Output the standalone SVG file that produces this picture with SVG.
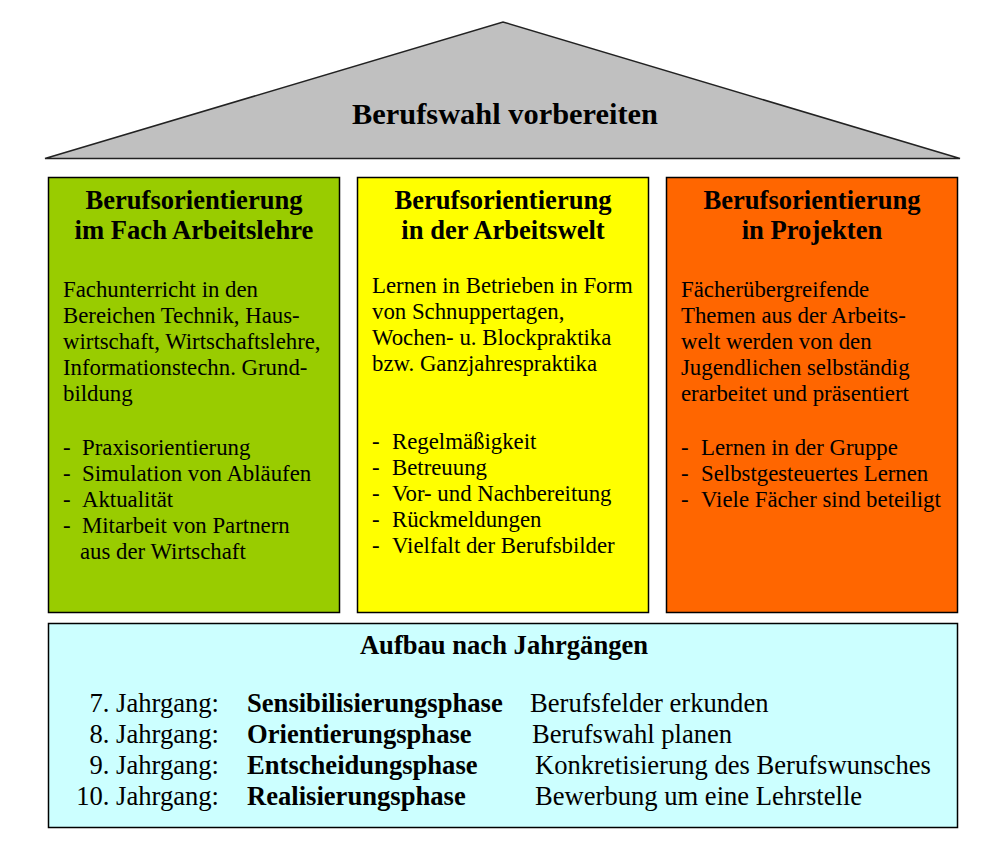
<svg xmlns="http://www.w3.org/2000/svg" width="1008" height="841" viewBox="0 0 1008 841">
<style>
text{font-family:"Liberation Serif","Times New Roman",serif;fill:#000}
.t{font-size:26.6px;font-weight:bold;text-anchor:middle}
.b{font-size:22.8px}
.r{font-size:26.6px}
.rb{font-size:26.6px;font-weight:bold}
.box{stroke:#000;stroke-width:1.5}
</style>
<rect width="1008" height="841" fill="#fff"/>
<g id="roof">
<polygon points="45,158.5 503,22 960,158.5" fill="#c0c0c0" stroke="#222" stroke-width="1.5"/>
<text x="505" y="124" style="font-size:30.4px;font-weight:bold;text-anchor:middle">Berufswahl vorbereiten</text>
</g>
<g id="col1">
<rect class="box" x="48.5" y="177.5" width="291" height="435" fill="#99cc00"/>
<text class="t" x="194" y="209">Berufsorientierung</text>
<text class="t" x="194" y="239">im Fach Arbeitslehre</text>
<text class="b" x="63" y="297">Fachunterricht in den</text>
<text class="b" x="63" y="323">Bereichen Technik, Haus-</text>
<text class="b" x="63" y="349">wirtschaft, Wirtschaftslehre,</text>
<text class="b" x="63" y="375">Informationstechn. Grund-</text>
<text class="b" x="63" y="401">bildung</text>
<text class="b" x="63" y="455">-</text><text class="b" x="82" y="455">Praxisorientierung</text>
<text class="b" x="63" y="481">-</text><text class="b" x="82" y="481">Simulation von Abläufen</text>
<text class="b" x="63" y="507">-</text><text class="b" x="82" y="507">Aktualität</text>
<text class="b" x="63" y="533">-</text><text class="b" x="82" y="533">Mitarbeit von Partnern</text>
<text class="b" x="80" y="559">aus der Wirtschaft</text>
</g>
<g id="col2">
<rect class="box" x="357.5" y="177.5" width="291" height="435" fill="#ffff00"/>
<text class="t" x="503" y="209">Berufsorientierung</text>
<text class="t" x="503" y="239">in der Arbeitswelt</text>
<text class="b" x="372" y="293">Lernen in Betrieben in Form</text>
<text class="b" x="372" y="319">von Schnuppertagen,</text>
<text class="b" x="372" y="345">Wochen- u. Blockpraktika</text>
<text class="b" x="372" y="371">bzw. Ganzjahrespraktika</text>
<text class="b" x="372" y="449">-</text><text class="b" x="392" y="449">Regelmäßigkeit</text>
<text class="b" x="372" y="475">-</text><text class="b" x="392" y="475">Betreuung</text>
<text class="b" x="372" y="501">-</text><text class="b" x="392" y="501">Vor- und Nachbereitung</text>
<text class="b" x="372" y="527">-</text><text class="b" x="392" y="527">Rückmeldungen</text>
<text class="b" x="372" y="553">-</text><text class="b" x="392" y="553">Vielfalt der Berufsbilder</text>
</g>
<g id="col3">
<rect class="box" x="666.5" y="177.5" width="291" height="435" fill="#ff6600"/>
<text class="t" x="812" y="209">Berufsorientierung</text>
<text class="t" x="812" y="239">in Projekten</text>
<text class="b" x="681" y="297">Fächerübergreifende</text>
<text class="b" x="681" y="323">Themen aus der Arbeits-</text>
<text class="b" x="681" y="349">welt werden von den</text>
<text class="b" x="681" y="375">Jugendlichen selbständig</text>
<text class="b" x="681" y="401">erarbeitet und präsentiert</text>
<text class="b" x="681" y="455">-</text><text class="b" x="701" y="455">Lernen in der Gruppe</text>
<text class="b" x="681" y="481">-</text><text class="b" x="701" y="481">Selbstgesteuertes Lernen</text>
<text class="b" x="681" y="507">-</text><text class="b" x="701" y="507">Viele Fächer sind beteiligt</text>
</g>
<g id="base">
<rect class="box" x="48.5" y="623.5" width="909" height="204" fill="#ccffff"/>
<text class="t" x="504" y="654">Aufbau nach Jahrgängen</text>
<g text-anchor="end">
<text class="r" x="219" y="712">7. Jahrgang:</text>
<text class="r" x="219" y="743">8. Jahrgang:</text>
<text class="r" x="219" y="774">9. Jahrgang:</text>
<text class="r" x="219" y="805">10. Jahrgang:</text>
</g>
<text class="rb" x="247" y="712">Sensibilisierungsphase</text>
<text class="rb" x="247" y="743">Orientierungsphase</text>
<text class="rb" x="247" y="774">Entscheidungsphase</text>
<text class="rb" x="247" y="805">Realisierungsphase</text>
<text class="r" x="530" y="712">Berufsfelder erkunden</text>
<text class="r" x="532" y="743">Berufswahl planen</text>
<text class="r" x="535" y="774">Konkretisierung des Berufswunsches</text>
<text class="r" x="535" y="805">Bewerbung um eine Lehrstelle</text>
</g>
<g id="connectors"></g>
</svg>
